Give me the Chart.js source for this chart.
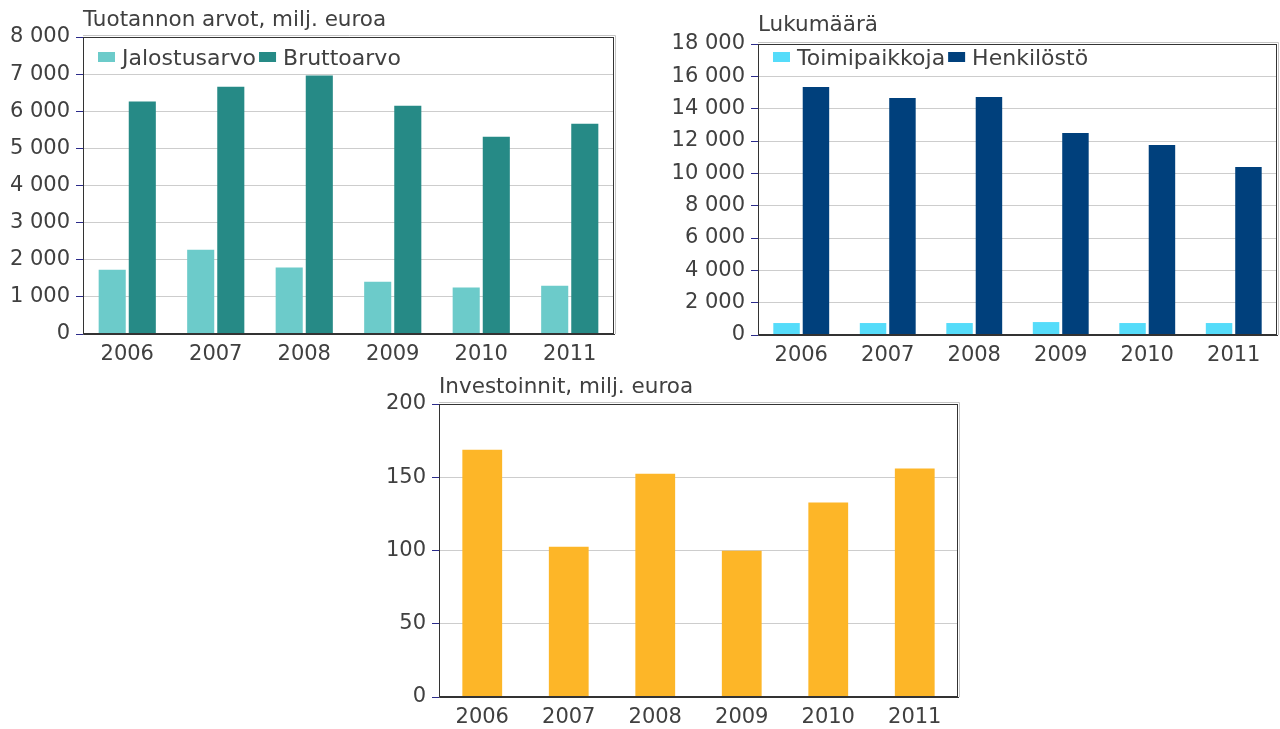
<!DOCTYPE html>
<html lang="fi">
<head>
<meta charset="utf-8">
<title>Tuotanto, henkilöstö ja investoinnit 2006–2011</title>
<script src="https://cdn.jsdelivr.net/npm/chart.js@4.4.1/dist/chart.umd.min.js"></script>
<style>
    body { margin: 0; background: #ffffff; }
    #sivu { position: relative; width: 1280px; height: 729px; overflow: hidden; }
    .kaavio { position: absolute; }
</style>
</head>
<body>
<div id="sivu">
    <div class="kaavio" style="left:0;top:0;width:625px;height:370px"><canvas id="tuotanto"></canvas></div>
    <div class="kaavio" style="left:640px;top:0;width:640px;height:370px"><canvas id="lukumaara"></canvas></div>
    <div class="kaavio" style="left:360px;top:370px;width:600px;height:359px"><canvas id="investoinnit"></canvas></div>
</div>
<script>
// vuosittaiset arvot
const vuodet = ['2006', '2007', '2008', '2009', '2010', '2011'];
const jalostusarvo = [1730, 2270, 1790, 1410, 1250, 1300];
const bruttoarvo = [6260, 6660, 6960, 6150, 5310, 5660];
const toimipaikkoja = [740, 740, 740, 800, 740, 740];
const henkilosto = [15340, 14660, 14720, 12500, 11750, 10390];
const investoinnit = [168.8, 102.6, 152.4, 99.9, 132.7, 155.9];

const TEKSTI = '#404040';
const FONTTI = '"DejaVu Sans", "Liberation Sans", sans-serif';
Chart.defaults.font.family = FONTTI;
Chart.defaults.font.size = 21;
Chart.defaults.color = TEKSTI;

function tuhannet(v) {
    return String(v).replace(/\B(?=(\d{3})+(?!\d))/g, ' ');
}

// kehys, otsikko ja selite piirretään itse
const kehys = {
    id: 'kehys',
    afterDraw(chart, args, opts) {
        const { ctx, chartArea: a } = chart;
        ctx.save();
        ctx.lineWidth = 1;
        ctx.strokeStyle = '#c4c4c4';
        ctx.beginPath();
        ctx.moveTo(a.left, a.top - 1.5);
        ctx.lineTo(a.right + 1.5, a.top - 1.5);
        ctx.lineTo(a.right + 1.5, a.bottom);
        ctx.stroke();
        ctx.strokeStyle = '#333333';
        ctx.strokeRect(a.left + 0.5, a.top + 0.5, a.width - 1, a.height - 1);

        ctx.fillStyle = TEKSTI;
        ctx.textBaseline = 'middle';
        ctx.font = '21.5px ' + FONTTI;
        ctx.fillText(opts.otsikko, a.left, opts.otsikkoY);

        if (opts.selite) {
            ctx.font = '22px ' + FONTTI;
            let x = a.left + 15;
            chart.data.datasets.forEach(ds => {
                ctx.fillStyle = ds.backgroundColor;
                ctx.fillRect(x, opts.seliteY - 5, 17, 10);
                ctx.fillStyle = TEKSTI;
                ctx.fillText(ds.label, x + 24, opts.seliteY + 2);
                x += 24 + ctx.measureText(ds.label).width + 3;
            });
        }
        ctx.restore();
    }
};

function asteikot(max, askel, yLeveys, xKorkeus) {
    return {
        x: {
            grid: { display: false, drawTicks: false },
            border: { color: '#333333' },
            ticks: { padding: 8 },
            afterFit(s) { s.height = xKorkeus; }
        },
        y: {
            min: 0,
            max: max,
            grid: { color: '#cdcdcd', tickColor: '#2b2b8a', tickLength: 7 },
            border: { color: '#555555' },
            ticks: { stepSize: askel, padding: 6, callback: v => tuhannet(v) },
            afterFit(s) { s.width = yLeveys; }
        }
    };
}

function perusasetukset(padding, skaalat, kehysAsetukset) {
    return {
        responsive: true,
        maintainAspectRatio: false,
        animation: false,
        layout: { padding: padding },
        plugins: {
            legend: { display: false },
            tooltip: { enabled: false },
            kehys: kehysAsetukset
        },
        scales: skaalat
    };
}

new Chart(document.getElementById('tuotanto'), {
    type: 'bar',
    data: {
        labels: vuodet,
        datasets: [
            { label: 'Jalostusarvo', data: jalostusarvo, backgroundColor: '#6ccbca',
              categoryPercentage: 0.68, barPercentage: 0.9 },
            { label: 'Bruttoarvo', data: bruttoarvo, backgroundColor: '#268a86',
              categoryPercentage: 0.68, barPercentage: 0.9 }
        ]
    },
    options: perusasetukset(
        { top: 37, right: 11, bottom: 0, left: 0 },
        asteikot(8000, 1000, 83, 36),
        { otsikko: 'Tuotannon arvot, milj. euroa', otsikkoY: 20, selite: true, seliteY: 57 }
    ),
    plugins: [kehys]
});

new Chart(document.getElementById('lukumaara'), {
    type: 'bar',
    data: {
        labels: vuodet,
        datasets: [
            { label: 'Toimipaikkoja', data: toimipaikkoja, backgroundColor: '#55dcfa',
              categoryPercentage: 0.68, barPercentage: 0.9 },
            { label: 'Henkilöstö', data: henkilosto, backgroundColor: '#00407c',
              categoryPercentage: 0.68, barPercentage: 0.9 }
        ]
    },
    options: perusasetukset(
        { top: 44, right: 3, bottom: 0, left: 0 },
        asteikot(18000, 2000, 118, 35),
        { otsikko: 'Lukumäärä', otsikkoY: 25, selite: true, seliteY: 57 }
    ),
    plugins: [kehys]
});

new Chart(document.getElementById('investoinnit'), {
    type: 'bar',
    data: {
        labels: vuodet,
        datasets: [
            { label: 'Investoinnit', data: investoinnit, backgroundColor: '#fdb628',
              categoryPercentage: 1, barPercentage: 0.46 }
        ]
    },
    options: perusasetukset(
        { top: 34, right: 2, bottom: 0, left: 0 },
        asteikot(200, 50, 79, 32),
        { otsikko: 'Investoinnit, milj. euroa', otsikkoY: 17, selite: false }
    ),
    plugins: [kehys]
});
</script>
</body>
</html>
